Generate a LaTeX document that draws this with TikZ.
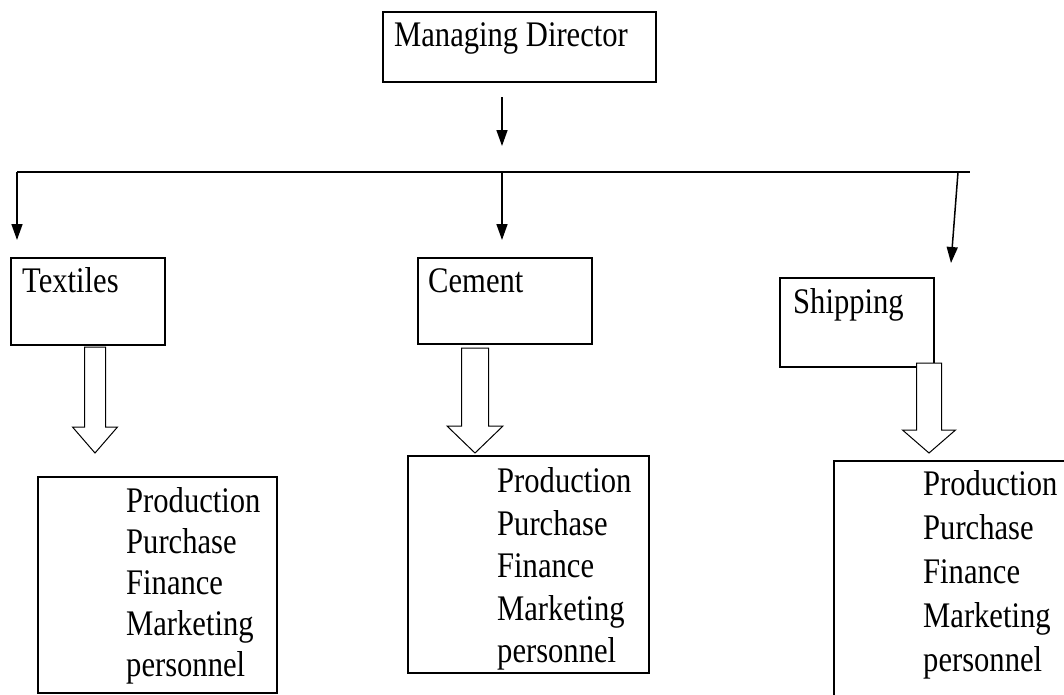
\documentclass[tikz,border=0pt]{standalone}
\usepackage{fontspec}
\setmainfont[FakeStretch=0.85]{Liberation Serif}
\usetikzlibrary{arrows.meta}

\begin{document}
\begin{tikzpicture}[x=1pt, y=-1pt,
  every node/.style={font=\fontsize{36}{42}\selectfont},
  unit/.style={rectangle, draw, line width=1.5pt, anchor=north west, inner sep=0pt},
  txt/.style={anchor=base west, inner sep=0pt},
  jobs/.style={anchor=north west, inner sep=0pt, align=left},
  link/.style={line width=1.5pt, -{Triangle[length=16pt, width=11pt]}},
  block/.style={draw, line width=1pt, fill=white, line join=miter},
]
  \useasboundingbox (0,0) rectangle (1064,694);
  \clip (0,0) rectangle (1064,694);

  % top
  \node[unit, minimum width=273, minimum height=70] (md) at (382,11) {};
  \node[txt] (mdlbl) at (394,46) {Managing Director};

  % divisions
  \node[unit, minimum width=154, minimum height=87] (textiles) at (10,257) {};
  \node[txt] (textileslbl) at (22,292) {Textiles};
  \node[unit, minimum width=174, minimum height=86] (cement) at (417,257) {};
  \node[txt] (cementlbl) at (428,292) {Cement};
  \node[unit, minimum width=154, minimum height=89] (shipping) at (779,277) {};
  \node[txt] (shippinglbl) at (793,313) {Shipping};

  % functions
  \node[unit, minimum width=239, minimum height=216] (textilesfn) at (37,476) {};
  \node[jobs, font=\fontsize{36}{41}\selectfont] (textilesjobs) at (126,487.5)
    {Production\\Purchase\\Finance\\Marketing\\personnel};
  \node[unit, minimum width=241, minimum height=217] (cementfn) at (407,455) {};
  \node[jobs, font=\fontsize{36}{42.5}\selectfont] (cementjobs) at (497,467.5)
    {Production\\Purchase\\Finance\\Marketing\\personnel};
  \node[unit, minimum width=260, minimum height=300] (shippingfn) at (833,460) {};
  \node[jobs, font=\fontsize{36}{44}\selectfont] (shippingjobs) at (923,470.5)
    {Production\\Purchase\\Finance\\Marketing\\personnel};

  % hollow arrows
  \foreach \cx/\ytop/\yneck/\sw/\hw in {95/347/427/10.5/22.5, 475/348/426/13.5/28, 929/363/430/12.5/26.5}
    \draw[block] (\cx-\sw,\ytop) -- (\cx+\sw,\ytop) -- (\cx+\sw,\yneck) -- (\cx+\hw,\yneck)
      -- (\cx,453) -- (\cx-\hw,\yneck) -- (\cx-\sw,\yneck) -- cycle;

  % connectors
  \coordinate (mdout) at (502,97);
  \coordinate (mdin) at (502,146);
  \coordinate (busL) at (17,172);
  \coordinate (busM) at (502,172);
  \coordinate (busS) at (958,172);
  \coordinate (busR) at (970,172);
  \coordinate (textilesin) at (17,240);
  \coordinate (cementin) at (502,240);
  \coordinate (shippingin) at (951,263);

  \draw[link] (mdout) -- (mdin);
  \draw[line width=1.5pt] (busL) -- (busR);
  \draw[link] (busL) -- (textilesin);
  \draw[link] (busM) -- (cementin);
  \draw[link] (busS) -- (shippingin);
\end{tikzpicture}
\end{document}
